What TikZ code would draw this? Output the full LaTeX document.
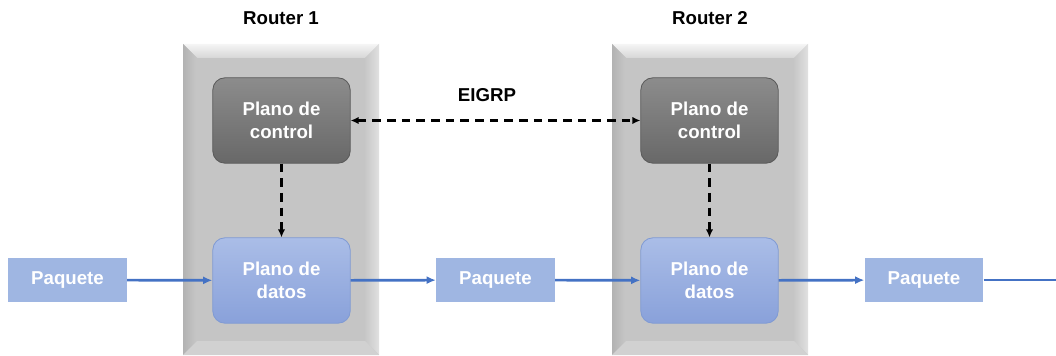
\documentclass[tikz,border=0pt]{standalone}
\usepackage{fontspec}
\setmainfont{Liberation Sans}
\usetikzlibrary{arrows.meta}
\definecolor{cajagris}{HTML}{C5C5C5}
\definecolor{ctrlarriba}{HTML}{8C8C8C}
\definecolor{ctrlabajo}{HTML}{686868}
\definecolor{ctrlborde}{HTML}{595959}
\definecolor{datosarriba}{HTML}{AABDE7}
\definecolor{datosabajo}{HTML}{89A1DA}
\definecolor{datosborde}{HTML}{7F9AD4}
\definecolor{paquete}{HTML}{9FB6E2}
\definecolor{azul}{HTML}{4472C4}
\begin{document}
\begin{tikzpicture}[x=0.75pt,y=-0.75pt,
    font=\fontsize{14pt}{17pt}\selectfont\bfseries,
    plano/.style={rounded corners=9pt,minimum width=103pt,minimum height=64pt,
      text=white,align=center,line width=0.6pt},
    ctrl/.style={plano,draw=ctrlborde,top color=ctrlarriba,bottom color=ctrlabajo},
    datos/.style={plano,draw=datosborde,top color=datosarriba,bottom color=datosabajo},
    pkt/.style={fill=paquete,text=white,minimum width=89pt,minimum height=33pt},
    flujo/.style={azul,line width=2pt,-{Latex[length=7pt,width=6pt]}},
    senal/.style={black,line width=2pt,dash pattern=on 6.5pt off 4.5pt,
      {Latex[length=6pt,width=5.5pt]}-{Latex[length=6pt,width=5.5pt]}}]
  \useasboundingbox (0,0) rectangle (1056,356);
  % cajas de los routers
  \foreach \x in {183,612}{
    \fill[cajagris] (\x,44) rectangle ++(196,311);
    \shade[top color=white!96!black,bottom color=black!16]
      (\x,44) -- ++(196,0) -- ++(-14,14) -- ++(-168,0) -- cycle;
    \shade[left color=black!30,right color=black!22]
      (\x,44) -- ++(14,14) -- ++(0,283) -- ++(-14,14) -- cycle;
    \shade[left color=black!22,right color=black!12]
      (\x+196,44) -- ++(-14,14) -- ++(0,283) -- ++(14,14) -- cycle;
    \fill[black!18] (\x,355) -- ++(14,-14) -- ++(168,0) -- ++(14,14) -- cycle;
  }
  \node (r1) at (281,18) {Router 1};
  \node (r2) at (710,18) {Router 2};
  % planos
  \node[ctrl] (c1) at (281.5,120.5) {Plano de\\control};
  \node[ctrl] (c2) at (709.5,120.5) {Plano de\\control};
  \node[datos] (d1) at (281.5,280.5) {Plano de\\datos};
  \node[datos] (d2) at (709.5,280.5) {Plano de\\datos};
  % paquetes
  \node[pkt] (p1) at (67.5,280) {Paquete};
  \node[pkt] (p2) at (495.5,280) {Paquete};
  \node[pkt] (p3) at (924,280) {Paquete};
  \coordinate (fin) at (1056,280);
  \node (eigrp) at (487,95) {EIGRP};
  % senalizacion
  \draw[senal] (c1) -- (c2);
  \draw[senal,-{Latex[length=6pt,width=5.5pt]}] (c1) -- (d1);
  \draw[senal,-{Latex[length=6pt,width=5.5pt]}] (c2) -- (d2);
  % flujo de datos
  \draw[flujo] (p1) -- (d1);
  \draw[flujo] (d1) -- (p2);
  \draw[flujo] (p2) -- (d2);
  \draw[flujo] (d2) -- (p3);
  \draw[azul,line width=2pt] (p3) -- (fin);
\end{tikzpicture}
\end{document}
